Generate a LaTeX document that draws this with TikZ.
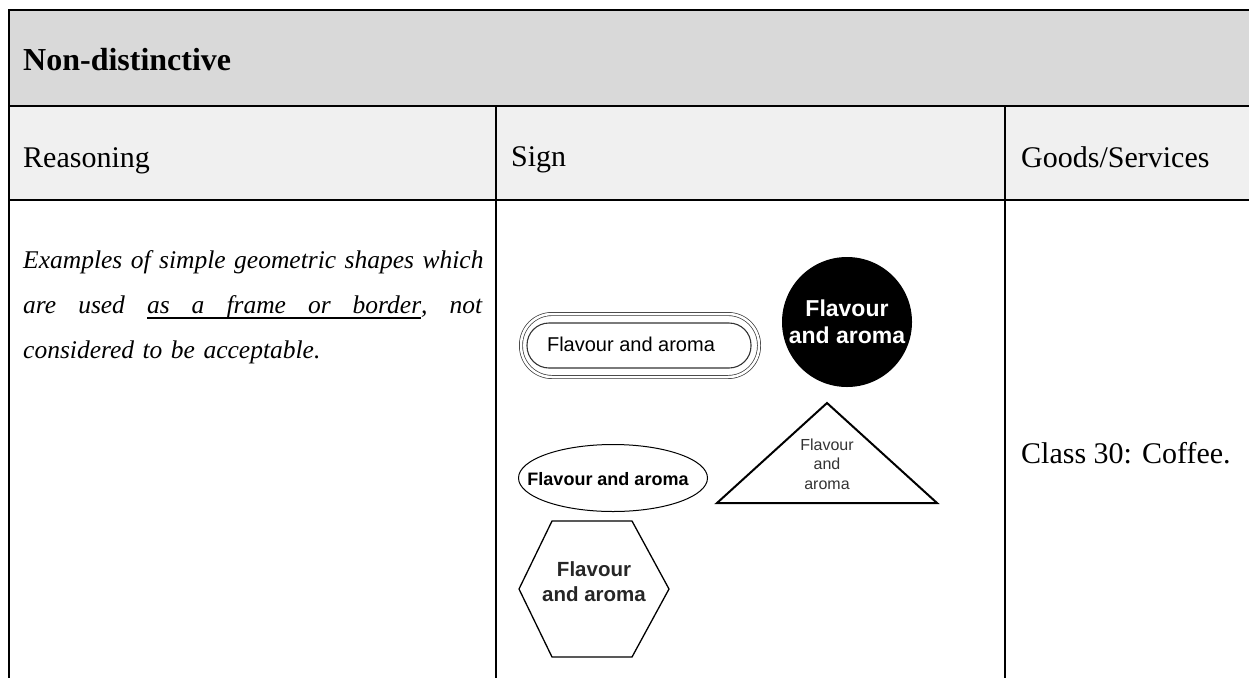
\documentclass[tikz,border=0pt]{standalone}
\usepackage{fontspec}
\setmainfont{Liberation Serif}
\setsansfont{Liberation Sans}
\usepackage{xcolor}
\usetikzlibrary{shapes.geometric}
\definecolor{headgray}{HTML}{D9D9D9}
\definecolor{rowgray}{HTML}{F0F0F0}
% underlined word and underlined (stretching) space
\newsavebox{\ulinebox}
\newcommand{\ulword}[1]{\sbox\ulinebox{#1}\rlap{\rule[-6pt]{\wd\ulinebox}{1.6pt}}\usebox\ulinebox}
\newcommand{\ulgap}{\leaders\hrule height -4.4pt depth 6pt\hskip .25em plus 1fil\relax}
\newcommand{\gap}{\hskip .25em plus 1fil\relax}

\begin{document}
\begin{tikzpicture}[x=1pt, y=-1pt,
    rule/.style={line width=2.2pt},
    celltext/.style={anchor=base west, inner sep=0pt, font=\fontsize{30}{36}\selectfont},
    logo/.style={align=center, inner sep=0pt}]
    \useasboundingbox (0,0) rectangle (1249,678);

    % Table background
    \fill[headgray] (9,10) rectangle (1249,106);
    \fill[rowgray] (9,106) rectangle (1249,200);

    % Table rules
    \draw[rule] (9,10) -- (1249,10);
    \draw[rule] (9,106) -- (1249,106);
    \draw[rule] (9,200) -- (1249,200);
    \draw[rule] (9,9) -- (9,678);
    \draw[rule] (496,106) -- (496,678);
    \draw[rule] (1005,106) -- (1005,678);

    % Header texts
    \node[celltext, font=\fontsize{32}{36}\selectfont\bfseries] (head) at (23,70) {Non-distinctive};
    \node[celltext] (reason) at (23,167) {Reasoning};
    \node[celltext] (sign) at (511,166) {Sign};
    \node[celltext] (goods) at (1021,167) {Goods/Services};

    % Reasoning
    \node[anchor=base west, inner sep=0pt, text width=459pt, align=left,
          font=\fontsize{25.5}{45}\selectfont\itshape] (why) at (23,268)
        {\makebox[\linewidth][s]{Examples of simple geometric shapes which}\\
         \leavevmode\hbox to \linewidth{are\gap used\gap\ulword{as}\ulgap\ulword{a}\ulgap\ulword{frame}\ulgap\ulword{or}\ulgap\ulword{border},\gap not}\\
         considered to be acceptable.};

    % Goods
    \node[celltext] (class) at (1021,463) {Class 30: Coffee.};

    % Signs
    \draw[black!80, double, line width=0.7pt, double distance=2.5pt, rounded corners=31pt] (521,314) rectangle (759,377);
    \draw[black!80, line width=1.1pt, rounded corners=22pt] (527,323) rectangle (751,368);
    \node[logo, font=\sffamily\fontsize{20}{24}\selectfont] (pill) at (631,344) {Flavour and aroma};

    \node[circle, fill=black, minimum size=130pt, logo, text=white,
          font=\sffamily\bfseries\fontsize{23}{27}\selectfont] (disc) at (847,322) {Flavour\\and aroma};

    \coordinate (apex) at (827,403);
    \coordinate (baseR) at (937,503);
    \coordinate (baseL) at (717,503);
    \draw[line width=2pt, line join=miter] (apex) -- (baseR) -- (baseL) -- cycle;
    \node[logo, text=black!80, font=\sffamily\fontsize{16}{19.5}\selectfont] (tri) at (827,464) {Flavour\\and\\aroma};

    \draw[line width=1pt] (613,478) ellipse [x radius=94.5, y radius=33.5];
    \node[logo, font=\sffamily\bfseries\fontsize{18}{22}\selectfont] (oval) at (608,479) {Flavour and aroma};

    \draw[line width=1.3pt] (552,521) -- (632,521) -- (669,589) -- (632,657) -- (552,657) -- (519,589) -- cycle;
    \node[logo, text=black!85, font=\sffamily\bfseries\fontsize{20.5}{25}\selectfont] (hexa) at (594,582) {Flavour\\and aroma};
\end{tikzpicture}
\end{document}
